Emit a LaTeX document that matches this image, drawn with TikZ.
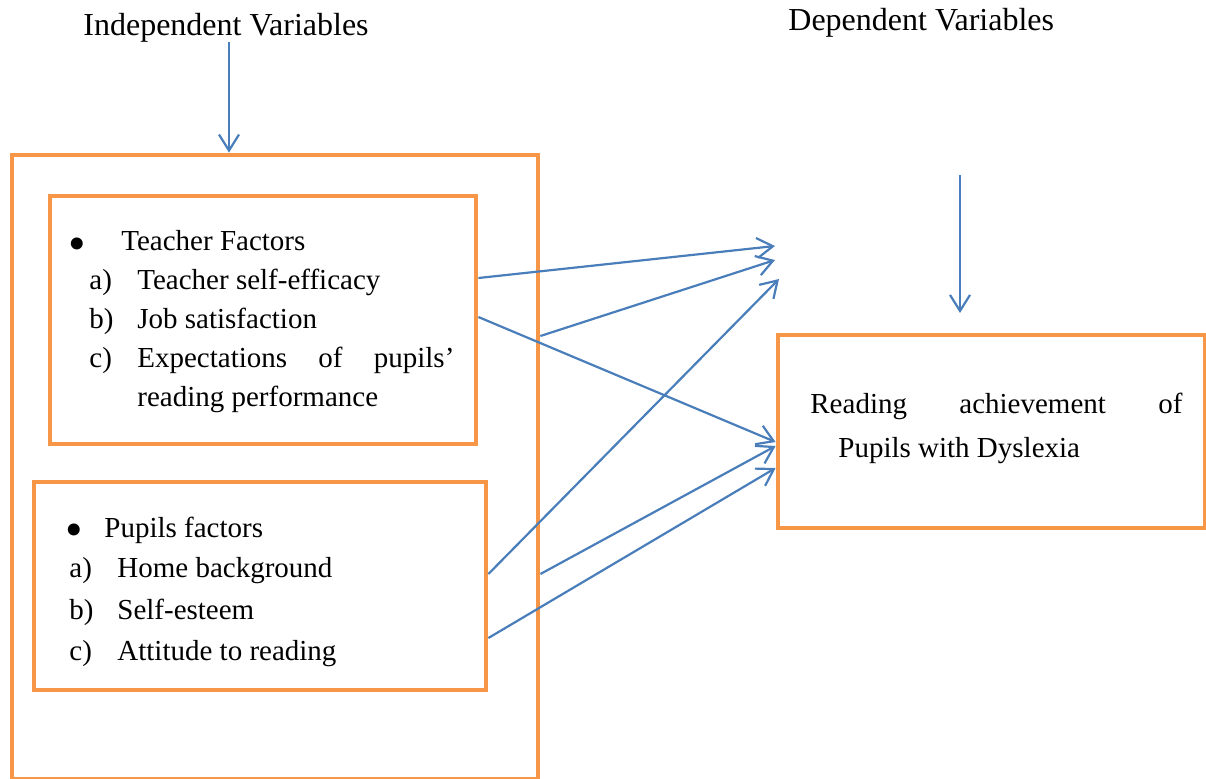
\documentclass[tikz,border=0pt]{standalone}
\usepackage{fontspec}
\setmainfont{Liberation Serif}
\usetikzlibrary{arrows.meta}

\definecolor{boxorange}{HTML}{F79646}
\definecolor{linkblue}{HTML}{4A7EBB}

\begin{document}
\begin{tikzpicture}[x=0.5pt, y=-0.5pt, >={Straight Barb[length=8pt,width=10pt]},
    box/.style={draw=boxorange, line width=2.4pt, inner sep=0pt},
    link/.style={->, draw=linkblue, line width=1.1pt},
    txt/.style={inner sep=0pt, anchor=base west, font=\fontsize{14.5}{17}\selectfont},
    bul/.style={inner sep=0pt, anchor=center, font=\fontsize{25}{25}\selectfont},
    head/.style={inner sep=0pt, anchor=base west, font=\fontsize{16}{18}\selectfont}]

    \useasboundingbox (0,0) rectangle (1206,778);

    % titres
    \node[head] (indep) at (83,35) {Independent Variables};
    \node[head] (dep) at (788,30) {Dependent Variables};

    % cadres
    \node[box, minimum width=263pt, minimum height=312pt] (outer) at (275,467) {};
    \node[box, minimum width=213pt, minimum height=124pt] (teacher) at (263,320) {};
    \node[box, minimum width=226pt, minimum height=104pt] (pupils) at (260,586) {};
    \node[box, minimum width=213.5pt, minimum height=96.5pt] (reading) at (991.5,431.5) {};

    % facteurs enseignant
    \node[bul] (tbul) at (77,249) {•};
    \node[txt] (thead) at (121,250) {Teacher Factors};
    \node[txt] (tla) at (89,289) {a)};
    \node[txt] (tia) at (137,289) {Teacher self-efficacy};
    \node[txt] (tlb) at (89,328) {b)};
    \node[txt] (tib) at (137,328) {Job satisfaction};
    \node[txt] (tlc) at (89,367) {c)};
    \node[txt] (tic) at (137,367) {\makebox[158.5pt][s]{Expectations of pupils’}};
    \node[txt] (tid) at (137,406) {reading performance};

    % facteurs eleves
    \node[bul] (pbul) at (74,535) {•};
    \node[txt] (phead) at (104,537) {Pupils factors};
    \node[txt] (pla) at (69,577) {a)};
    \node[txt] (pia) at (117,577) {Home background};
    \node[txt] (plb) at (69,619) {b)};
    \node[txt] (pib) at (117,619) {Self-esteem};
    \node[txt] (plc) at (69,660) {c)};
    \node[txt] (pic) at (117,660) {Attitude to reading};

    % variable dependante
    \node[txt] (rla) at (810,413) {\makebox[186pt][s]{Reading achievement of}};
    \node[txt] (rlb) at (838,457) {Pupils with Dyslexia};

    % fleches verticales
    \draw[link] (indep.south -| 229,0) -- (outer.north -| 229,0);
    \coordinate (d1) at (960,175);
    \coordinate (d2) at (960,313);
    \draw[link] (d1) -- (d2);

    % liens
    \coordinate (e1) at (775,246);
    \coordinate (e2) at (775,260);
    \coordinate (e3) at (779,279);
    \draw[link] (teacher.east |- 0,278) -- (e1);
    \draw[link] (outer.east |- 0,336) -- (e2);
    \draw[link] (teacher.east |- 0,317) -- (reading.west |- 0,442);
    \draw[link] (pupils.east |- 0,574) -- (e3);
    \draw[link] (outer.east |- 0,574) -- (reading.west |- 0,446);
    \draw[link] (pupils.east |- 0,638) -- (reading.west |- 0,468);

\end{tikzpicture}
\end{document}
